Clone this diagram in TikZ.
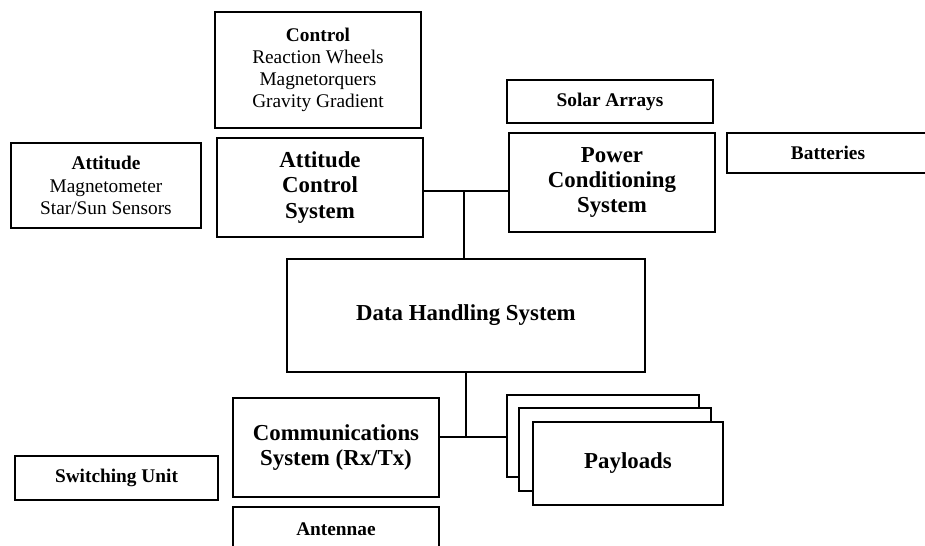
\documentclass[tikz,border=0pt]{standalone}
\usepackage{fontspec}
\setmainfont{Liberation Serif}
\usetikzlibrary{positioning}
\tikzset{
  box/.style={draw, line width=0.9pt, align=center, inner sep=0pt, fill=white},
  ksmall/.style={box, font=\fontsize{11}{12.6}\selectfont},
  kbig/.style={box, font=\fontsize{13}{14.4}\selectfont\bfseries},
  link/.style={line width=0.7pt},
}

\begin{document}
\begin{tikzpicture}[x=0.02cm, y=-0.02cm]
    \useasboundingbox (0,0) rectangle (925,546);
    \node[ksmall, minimum width=206*0.02cm, minimum height=116*0.02cm] (control) at (318,70) {\textbf{Control}\\Reaction Wheels\\Magnetorquers\\Gravity Gradient};
    \node[ksmall, minimum width=190*0.02cm, minimum height=85*0.02cm] (sensors) at (106,185.5) {\textbf{Attitude}\\Magnetometer\\Star/Sun Sensors};
    \node[kbig, minimum width=206*0.02cm, minimum height=99*0.02cm] (acs) at (320,187.5) {Attitude\\Control\\System};
    \node[ksmall, minimum width=206*0.02cm, minimum height=43*0.02cm, font=\fontsize{11}{12.6}\selectfont\bfseries] (solar) at (610,101.5) {Solar Arrays};
    \node[kbig, minimum width=206*0.02cm, minimum height=99*0.02cm] (pcs) at (612,182.5) {Power\\Conditioning\\System};
    \node[ksmall, minimum width=202*0.02cm, minimum height=40*0.02cm, font=\fontsize{11}{12.6}\selectfont\bfseries] (batteries) at (828,153) {Batteries};
    \node[kbig, minimum width=358*0.02cm, minimum height=113*0.02cm] (dhs) at (466,315.5) {Data Handling System};
    \node[kbig, minimum width=206*0.02cm, minimum height=99*0.02cm] (comms) at (336,447.5) {Communications\\System (Rx/Tx)};
    \node[ksmall, minimum width=203*0.02cm, minimum height=44*0.02cm, font=\fontsize{11}{12.6}\selectfont\bfseries] (switching) at (116.5,478) {Switching Unit};
    \node[ksmall, minimum width=206*0.02cm, minimum height=44*0.02cm, font=\fontsize{11}{12.6}\selectfont\bfseries] (antennae) at (336,529) {Antennae};
    % stacked payload boxes
    \node[box, minimum width=192*0.02cm, minimum height=82*0.02cm] (payA) at (603,436) {};
    \node[box, minimum width=192*0.02cm, minimum height=83*0.02cm] (payB) at (615,449.5) {};
    \node[kbig, minimum width=190*0.02cm, minimum height=83*0.02cm] (payloads) at (628,463.5) {Payloads};
    % bus lines
    \coordinate (hubtop) at (464,191);
    \coordinate (hubbot) at (466,437);
    \draw[link] (acs.east |- hubtop) -- (hubtop) -- (pcs.west |- hubtop);
    \draw[link] (hubtop) -- (hubtop |- dhs.north);
    \draw[link] (dhs.south) -- (hubbot);
    \draw[link] (hubbot -| comms.east) -- (hubbot -| payA.west);
  \end{tikzpicture}
\end{document}
